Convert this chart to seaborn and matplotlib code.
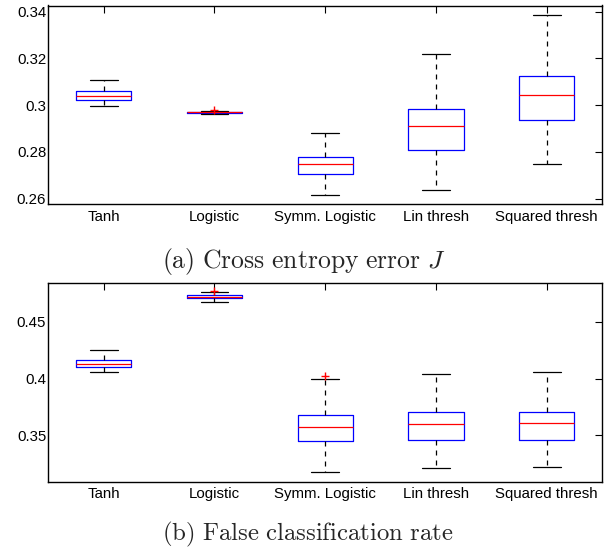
import numpy as np
import pandas as pd
import matplotlib
matplotlib.use("Agg")
import matplotlib.pyplot as plt
from matplotlib.ticker import FuncFormatter
import seaborn as sns

methods = ["Tanh", "Logistic", "Symm. Logistic", "Lin thresh", "Squared thresh"]

# (a) cross entropy error J: whisker low, q1, median, q3, whisker high
J_lo = [0.2995, 0.2964, 0.2614, 0.2638, 0.2750]
J_q1 = [0.3022, 0.2966, 0.2706, 0.2808, 0.2937]
J_med = [0.3038, 0.2969, 0.2747, 0.2911, 0.3042]
J_q3 = [0.3059, 0.2972, 0.2778, 0.2984, 0.3125]
J_hi = [0.3106, 0.2975, 0.2882, 0.3218, 0.3387]
J_out_method = ["Logistic"]
J_out = [0.2981]

# (b) false classification rate
F_lo = [0.4055, 0.4676, 0.3174, 0.3210, 0.3224]
F_q1 = [0.4099, 0.4709, 0.3452, 0.3459, 0.3456]
F_med = [0.4128, 0.4717, 0.3576, 0.3600, 0.3606]
F_q3 = [0.4163, 0.4732, 0.3676, 0.3705, 0.3702]
F_hi = [0.4251, 0.4764, 0.3996, 0.4040, 0.4060]
F_out_method = ["Logistic", "Symm. Logistic"]
F_out = [0.4770, 0.4019]


def long_table(lo, q1, med, q3, hi):
    vals = np.column_stack([lo, q1, med, q3, hi]).ravel()
    return pd.DataFrame({"method": np.repeat(methods, 5), "value": vals})


sns.set_style("white")
plt.rcParams["font.family"] = ["Liberation Sans", "DejaVu Sans"]
plt.rcParams["mathtext.fontset"] = "cm"

fig = plt.figure(figsize=(6.04, 5.5), dpi=100)
ax1 = fig.add_axes([0.080, 0.629, 0.917, 0.361])
ax2 = fig.add_axes([0.080, 0.124, 0.917, 0.362])

panels = [
    (ax1, long_table(J_lo, J_q1, J_med, J_q3, J_hi), J_out_method, J_out,
     (0.2577, 0.3426), [0.26, 0.28, 0.30, 0.32, 0.34]),
    (ax2, long_table(F_lo, F_q1, F_med, F_q3, F_hi), F_out_method, F_out,
     (0.3092, 0.4843), [0.35, 0.40, 0.45]),
]

lw = 0.9
for ax, df, out_m, out_v, ylim, yticks in panels:
    sns.boxplot(
        data=df, x="method", y="value", order=methods, ax=ax,
        fill=False, width=0.5, whis=(0, 100), capwidths=0.25,
        boxprops={"color": "blue", "linewidth": lw},
        medianprops={"color": "red", "linewidth": lw},
        whiskerprops={"color": "black", "linewidth": lw, "linestyle": (0, (4, 4))},
        capprops={"color": "black", "linewidth": lw},
        showfliers=False,
    )
    sns.stripplot(x=out_m, y=out_v, order=methods, ax=ax, jitter=False,
                  marker="+", color="red", size=6, linewidth=1)
    ax.set_xlim(-0.5, len(methods) - 0.5)
    ax.set_ylim(*ylim)
    ax.set_yticks(yticks)
    ax.yaxis.set_major_formatter(FuncFormatter(lambda v, p: "%g" % round(v, 4)))
    ax.set_xlabel("")
    ax.set_ylabel("")
    ax.tick_params(axis="both", direction="in", length=5, width=0.8,
                   top=True, right=True, labelsize=10.8, colors="black")
    ax.tick_params(axis="x", pad=4)
    ax.tick_params(axis="y", pad=1.5)
    for s in ax.spines.values():
        s.set_visible(True)
        s.set_color("black")
        s.set_linewidth(1.0)

fig.text(0.503, 0.524, r"$\mathrm{(a)\ Cross\ entropy\ error}\ J$",
         ha="center", va="center", fontsize=18.5)
fig.text(0.509, 0.028, r"$\mathrm{(b)\ False\ classification\ rate}$",
         ha="center", va="center", fontsize=17.8)

fig.savefig("out.png", dpi=100)
